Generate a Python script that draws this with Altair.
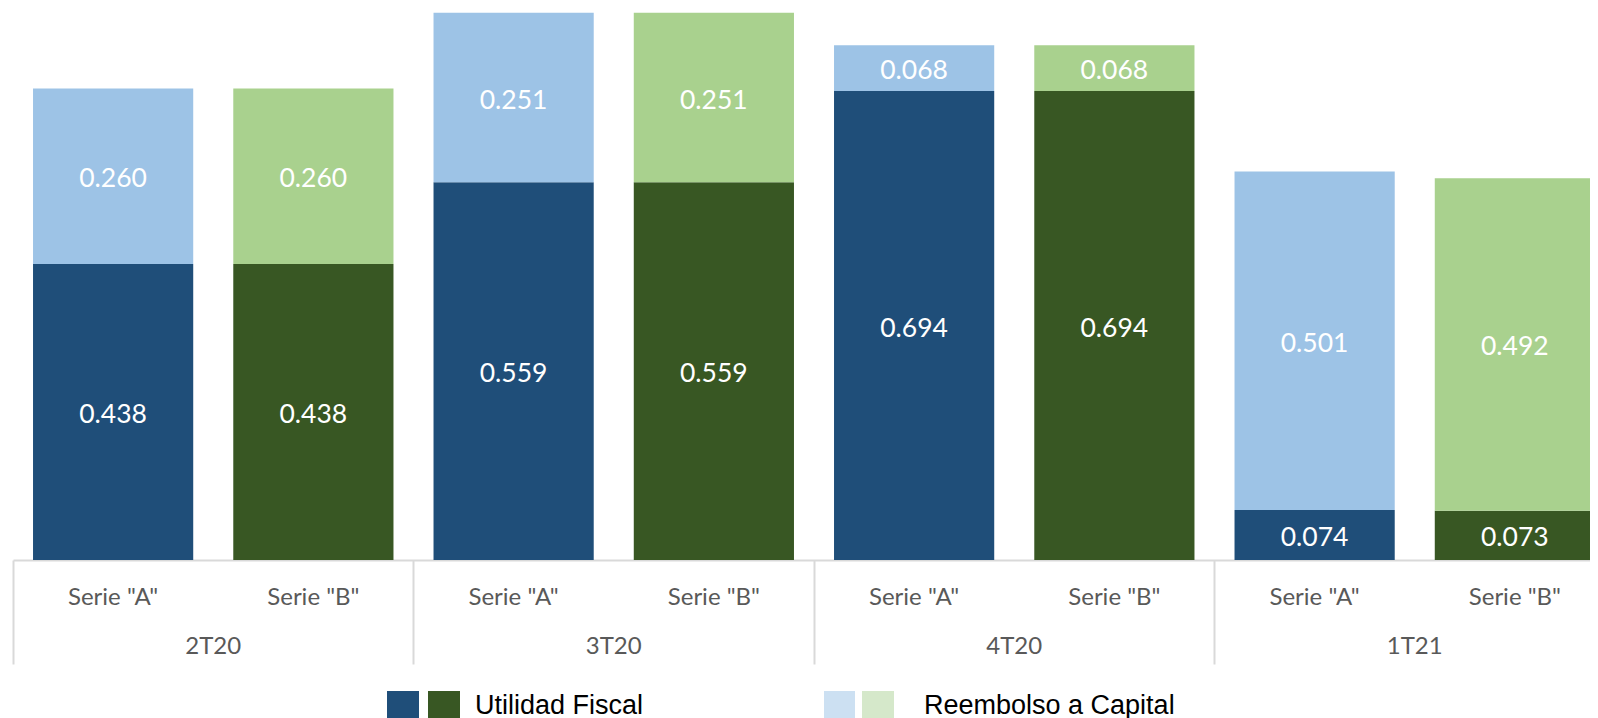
import altair as alt
import pandas as pd

# ---- data ----
grupos = ["2T20", "3T20", "4T20", "1T21"]
series = ['Serie "A"', 'Serie "B"']
utilidad_a = [0.438, 0.559, 0.694, 0.074]
utilidad_b = [0.438, 0.559, 0.694, 0.073]
reembolso_a = [0.260, 0.251, 0.068, 0.501]
reembolso_b = [0.260, 0.251, 0.068, 0.492]
conceptos = ["Utilidad Fiscal", "Reembolso a Capital"]

claves = ["UF-A", "UF-B", "RC-A", "RC-B"]
colores = ["#1F4E79", "#385723", "#9DC3E6", "#A9D18E"]

rows = []
for i, g in enumerate(grupos):
    for s, uf, rc, k in [(series[0], utilidad_a, reembolso_a, "A"),
                          (series[1], utilidad_b, reembolso_b, "B")]:
        rows.append({"grupo": g, "serie": s, "concepto": conceptos[0],
                     "valor": uf[i], "orden": 0, "clave": "UF-" + k})
        rows.append({"grupo": g, "serie": s, "concepto": conceptos[1],
                     "valor": rc[i], "orden": 1, "clave": "RC-" + k})
df = pd.DataFrame(rows)
df_series = df[df["orden"] == 0][["grupo", "serie"]]
df_grupos = pd.DataFrame({"grupo": grupos})

W, H = 1602, 552
FONT = "Lato"
GRAY = "#595959"

x_enc = alt.X(
    "grupo:N",
    sort=grupos,
    scale=alt.Scale(domain=grupos, paddingInner=0, paddingOuter=0, round=False),
    axis=alt.Axis(title=None, labels=False, grid=False, domain=True,
                  domainColor="#D9D9D9", domainWidth=2,
                  ticks=True, tickColor="#D9D9D9", tickWidth=2, tickSize=104,
                  bandPosition=0),
)
xoff = alt.XOffset("serie:N", sort=series,
                   scale=alt.Scale(domain=series, paddingInner=0.2, paddingOuter=0.1,
                                   round=False))

bars = alt.Chart(df).mark_bar().encode(
    x=x_enc,
    xOffset=xoff,
    y=alt.Y("valor:Q", stack="zero",
            scale=alt.Scale(domain=[0, 0.817], nice=False, zero=True), axis=None),
    color=alt.Color("clave:N", scale=alt.Scale(domain=claves, range=colores), legend=None),
    order=alt.Order("orden:Q", sort="ascending"),
)

labels = alt.Chart(df).transform_stack(
    stack="valor", groupby=["grupo", "serie"], as_=["v0", "v1"],
    sort=[alt.SortField("orden", order="ascending")],
).transform_calculate(
    mid="(datum.v0 + datum.v1) / 2"
).mark_text(color="white", font=FONT, fontSize=26.5, baseline="middle", dy=3).encode(
    x=alt.X("grupo:N", sort=grupos),
    xOffset=alt.XOffset("serie:N", sort=series),
    y=alt.Y("mid:Q"),
    text=alt.Text("valor:Q", format=".3f"),
)

serie_labels = alt.Chart(df_series).mark_text(
    color=GRAY, font=FONT, fontSize=24, baseline="alphabetic"
).encode(
    x=alt.X("grupo:N", sort=grupos),
    xOffset=alt.XOffset("serie:N", sort=series),
    y=alt.value(596.5),
    text="serie:N",
)

group_labels = alt.Chart(df_grupos).mark_text(
    color=GRAY, font=FONT, fontSize=24, baseline="alphabetic"
).encode(
    x=alt.X("grupo:N", sort=grupos),
    y=alt.value(646),
    text="grupo:N",
)

# ---- custom legend ----
legend_layers = []
swatches = [(374, 406, "#1F4E79"), (415, 447, "#385723"),
            (811, 842, "#CCE0F2"), (849, 881, "#D5E8CA")]
for x0, x1, c in swatches:
    legend_layers.append(
        alt.Chart(df_grupos.head(1)).mark_rect(color=c).encode(
            x=alt.value(x0), x2=alt.value(x1), y=alt.value(683), y2=alt.value(715)
        )
    )
legend_text = [(462, conceptos[0]), (911, conceptos[1])]
for x0, t in legend_text:
    legend_layers.append(
        alt.Chart(df_grupos.head(1)).mark_text(
            text=t, font="Liberation Sans", fontSize=27, color="black",
            align="left", baseline="alphabetic"
        ).encode(x=alt.value(x0), y=alt.value(705.5))
    )

chart = alt.layer(bars, labels, serie_labels, group_labels, *legend_layers).properties(
    width=W, height=H,
    padding={"left": 5, "top": 0, "right": -25, "bottom": 158},
    autosize=alt.AutoSizeParams(type="none"),
    background="white",
).configure_view(stroke=None)

chart.save("out.html", embed_options={"renderer": "svg", "actions": False})
